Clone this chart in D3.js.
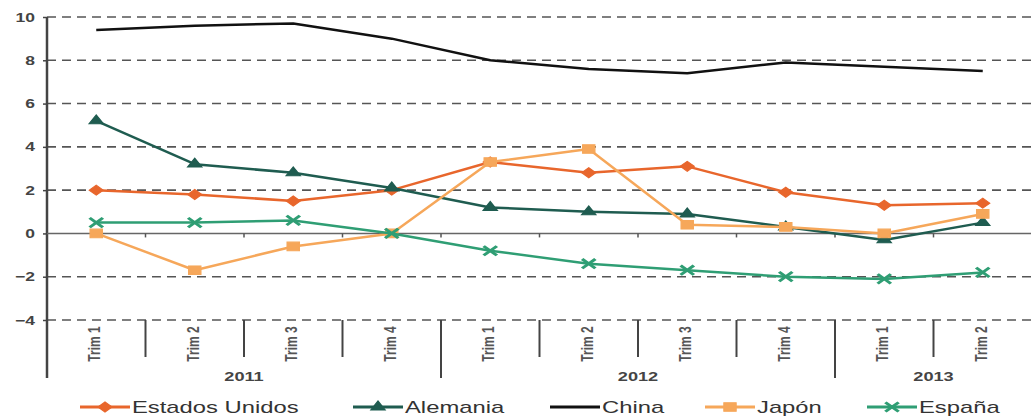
<!DOCTYPE html>
<html>
<head>
  <meta charset="utf-8">
  <title>PIB trimestral</title>
  <script src="https://cdn.jsdelivr.net/npm/d3@7"></script>
  <style>
    body { margin: 0; background: #fff; }
    text { font-family: "Liberation Sans", Arial, sans-serif; }
  </style>
</head>
<body>
  <script>
    // Dimensions
    const w = 1031;
    const h = 420;
    // the source picture is stretched sideways, so text and markers are too
    const stretch = 1.4;

    // Data
    const quarters = ["Trim 1", "Trim 2", "Trim 3", "Trim 4", "Trim 1", "Trim 2", "Trim 3", "Trim 4", "Trim 1", "Trim 2"];
    const years = ["2011", "2012", "2013"];
    const yearSpans = [[0, 3], [4, 7], [8, 9]];
    const yTicks = [-4, -2, 0, 2, 4, 6, 8, 10];

    const estadosUnidos = [2.0, 1.8, 1.5, 2.0, 3.3, 2.8, 3.1, 1.9, 1.3, 1.4];
    const alemania = [5.2, 3.2, 2.8, 2.1, 1.2, 1.0, 0.9, 0.3, -0.3, 0.5];
    const china = [9.4, 9.6, 9.7, 9.0, 8.0, 7.6, 7.4, 7.9, 7.7, 7.5];
    const japon = [0.0, -1.7, -0.6, 0.0, 3.3, 3.9, 0.4, 0.3, 0.0, 0.9];
    const espana = [0.5, 0.5, 0.6, 0.0, -0.8, -1.4, -1.7, -2.0, -2.1, -1.8];

    const series = [
      { name: "Estados Unidos", values: estadosUnidos, color: "#e8662c", marker: "diamond" },
      { name: "Alemania", values: alemania, color: "#1f5c50", marker: "triangle" },
      { name: "China", values: china, color: "#111111", marker: "none" },
      { name: "Japón", values: japon, color: "#f6a75a", marker: "square" },
      { name: "España", values: espana, color: "#2f9e74", marker: "cross" }
    ];

    const left = 47, right = 1032;

    const xScale = d3.scaleBand()
      .domain(d3.range(quarters.length))
      .range([left, right]);

    const yScale = d3.scaleLinear()
      .domain([-4, 10])
      .range([320, 17]);

    const svg = d3.select("body")
      .append("svg")
      .attr("width", w)
      .attr("height", h);

    // dashed gridlines
    svg.selectAll("line.grid")
      .data(yTicks.filter(d => d !== 0))
      .enter()
      .append("line")
      .attr("x1", left)
      .attr("x2", w)
      .attr("y1", d => yScale(d))
      .attr("y2", d => yScale(d))
      .attr("stroke", "#555")
      .attr("stroke-width", 1.6)
      .attr("stroke-dasharray", "9,6");

    // y axis ticks + labels
    const yAxis = svg.append("g")
      .attr("transform", `translate(${left},0)`)
      .call(d3.axisLeft(yScale).tickValues(yTicks).tickSize(4).tickSizeOuter(0));
    yAxis.select(".domain").remove();
    yAxis.selectAll("line").attr("stroke", "#444").attr("stroke-width", 1.5);
    yAxis.selectAll("text")
      .attr("x", null)
      .attr("transform", `translate(-12,0) scale(${stretch},1)`)
      .attr("fill", "#444")
      .attr("font-weight", "bold")
      .attr("font-size", 12.5);

    svg.append("line")
      .attr("x1", left).attr("x2", left)
      .attr("y1", yScale(10)).attr("y2", 378)
      .attr("stroke", "#444")
      .attr("stroke-width", 2.5);

    // zero line with small ticks
    svg.append("line")
      .attr("x1", left).attr("x2", w)
      .attr("y1", yScale(0)).attr("y2", yScale(0))
      .attr("stroke", "#666")
      .attr("stroke-width", 1.5);
    svg.selectAll("line.zt")
      .data(d3.range(1, quarters.length))
      .enter()
      .append("line")
      .attr("x1", d => xScale(d)).attr("x2", d => xScale(d))
      .attr("y1", yScale(0)).attr("y2", yScale(0) + 4)
      .attr("stroke", "#555")
      .attr("stroke-width", 1.5);

    // category separators below the plot
    const yearBreaks = yearSpans.slice(1).map(s => s[0]);
    svg.selectAll("line.sep")
      .data(d3.range(1, quarters.length))
      .enter()
      .append("line")
      .attr("x1", d => xScale(d)).attr("x2", d => xScale(d))
      .attr("y1", yScale(-4))
      .attr("y2", d => yearBreaks.includes(d) ? 378 : 357)
      .attr("stroke", "#444")
      .attr("stroke-width", 2);

    // quarter labels (rotated)
    svg.selectAll("text.q")
      .data(quarters)
      .enter()
      .append("text")
      .attr("transform", (d, i) => `translate(${xScale(i) + xScale.bandwidth() / 2 + 4},344) rotate(-90) scale(1,1.3)`)
      .attr("text-anchor", "middle")
      .attr("font-size", 12)
      .attr("font-weight", "bold")
      .attr("fill", "#555")
      .text(d => d);

    // year labels
    svg.selectAll("text.y")
      .data(years)
      .enter()
      .append("text")
      .attr("transform", (d, i) => {
        const x = (xScale(yearSpans[i][0]) + xScale(yearSpans[i][1]) + xScale.bandwidth()) / 2;
        return `translate(${x},381) scale(${stretch},1)`;
      })
      .attr("text-anchor", "middle")
      .attr("font-size", 13)
      .attr("font-weight", "bold")
      .attr("fill", "#444")
      .text(d => d);

    const cx = i => xScale(i) + xScale.bandwidth() / 2;

    const symbolFor = {
      diamond: d3.symbol().type(d3.symbolSquare).size(50),
      triangle: d3.symbol().type(d3.symbolTriangle).size(45),
      square: d3.symbol().type(d3.symbolSquare).size(75),
      cross: d3.symbol().type(d3.symbolX).size(60)
    };
    const rot = m => m === "diamond" ? " rotate(45)" : "";

    const line = d3.line()
      .x((d, i) => cx(i))
      .y(d => yScale(d));

    // lines and markers
    series.forEach(s => {
      svg.append("path")
        .datum(s.values)
        .attr("d", line)
        .attr("fill", "none")
        .attr("stroke", s.color)
        .attr("stroke-width", 2.5)
        .attr("stroke-linejoin", "round");

      if (s.marker !== "none") {
        svg.selectAll(null)
          .data(s.values)
          .enter()
          .append("path")
          .attr("transform", (d, i) => `translate(${cx(i)},${yScale(d)}) scale(${stretch},1)${rot(s.marker)}`)
          .attr("d", symbolFor[s.marker]())
          .attr("fill", s.color)
          .attr("stroke", s.color)
          .attr("stroke-width", s.marker === "cross" ? 2.5 : 1);
      }
    });

    // legend
    const legendX = [80, 353, 550, 705, 867];
    const legend = svg.selectAll("g.legend")
      .data(series)
      .enter()
      .append("g")
      .attr("transform", (d, i) => `translate(${legendX[i]},407)`);

    legend.append("line")
      .attr("x1", 0).attr("x2", 50)
      .attr("stroke", d => d.color)
      .attr("stroke-width", 3);

    legend.filter(d => d.marker !== "none")
      .append("path")
      .attr("transform", d => `translate(25,0) scale(${stretch},1)${rot(d.marker)}`)
      .attr("d", d => symbolFor[d.marker]())
      .attr("fill", d => d.color)
      .attr("stroke", d => d.color)
      .attr("stroke-width", d => d.marker === "cross" ? 2.5 : 1);

    legend.append("text")
      .attr("transform", `translate(52,6) scale(${stretch},1)`)
      .attr("font-size", 17)
      .attr("fill", "#333")
      .text(d => d.name);
  </script>
</body>
</html>
